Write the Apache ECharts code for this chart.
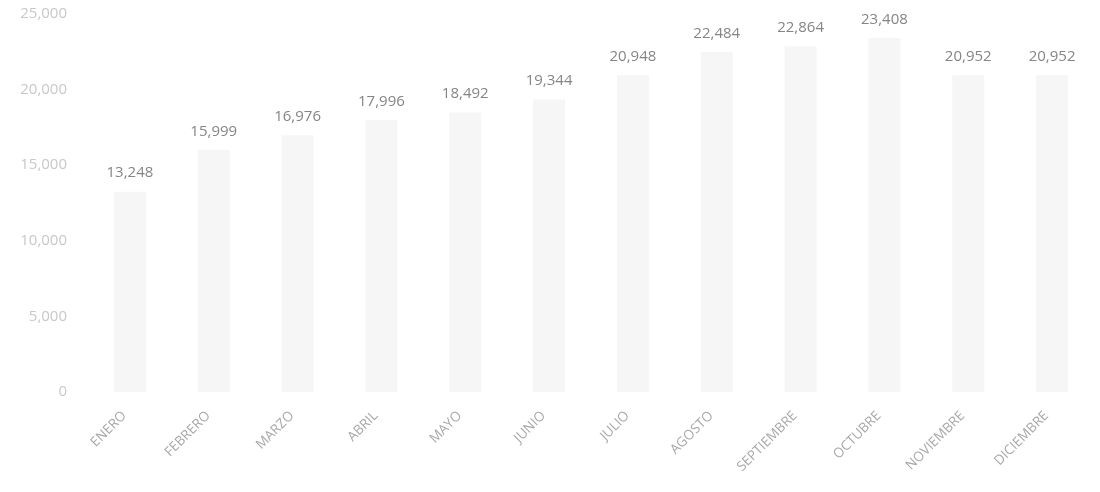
<!DOCTYPE html>
<html>
<head>
<meta charset="utf-8">
<script src="https://cdn.jsdelivr.net/npm/echarts@6/dist/echarts.min.js"></script>
<style>
html,body{margin:0;padding:0;background:#fff;}
#c{width:1100px;height:492px;}
</style>
</head>
<body>
<div id="c"></div>
<script>
const categories = ["ENERO","FEBRERO","MARZO","ABRIL","MAYO","JUNIO","JULIO","AGOSTO","SEPTIEMBRE","OCTUBRE","NOVIEMBRE","DICIEMBRE"];
const values = [13248,15999,16976,17996,18492,19344,20948,22484,22864,23408,20952,20952];

const chart = echarts.init(document.getElementById('c'));
chart.setOption({
  animation: false,
  backgroundColor: '#ffffff',
  grid: { left: 88, right: 6, top: 14, bottom: 100, containLabel: false },
  xAxis: {
    type: 'category',
    data: categories,
    axisLine: { show: false },
    axisTick: { show: false },
    axisLabel: {
      rotate: 45,
      interval: 0,
      color: '#a8a8a8',
      fontFamily: 'Open Sans',
      fontSize: 13.5,
      margin: 16,
      padding: [0, 8, 0, 0]
    }
  },
  yAxis: {
    type: 'value',
    min: 0,
    max: 25000,
    interval: 5000,
    splitLine: { show: false },
    axisLine: { show: false },
    axisTick: { show: false },
    axisLabel: {
      color: '#c8c8c8',
      fontFamily: 'Open Sans',
      fontSize: 15,
      margin: 21,
      formatter: v => v.toLocaleString('en-US')
    }
  },
  series: [{
    type: 'bar',
    data: values,
    barWidth: 32,
    itemStyle: { color: '#f6f6f6' },
    label: {
      show: true,
      position: 'top',
      distance: 11,
      color: '#858585',
      fontFamily: 'Open Sans',
      fontSize: 15,
      formatter: p => p.value.toLocaleString('en-US')
    }
  }]
});
</script>
</body>
</html>
